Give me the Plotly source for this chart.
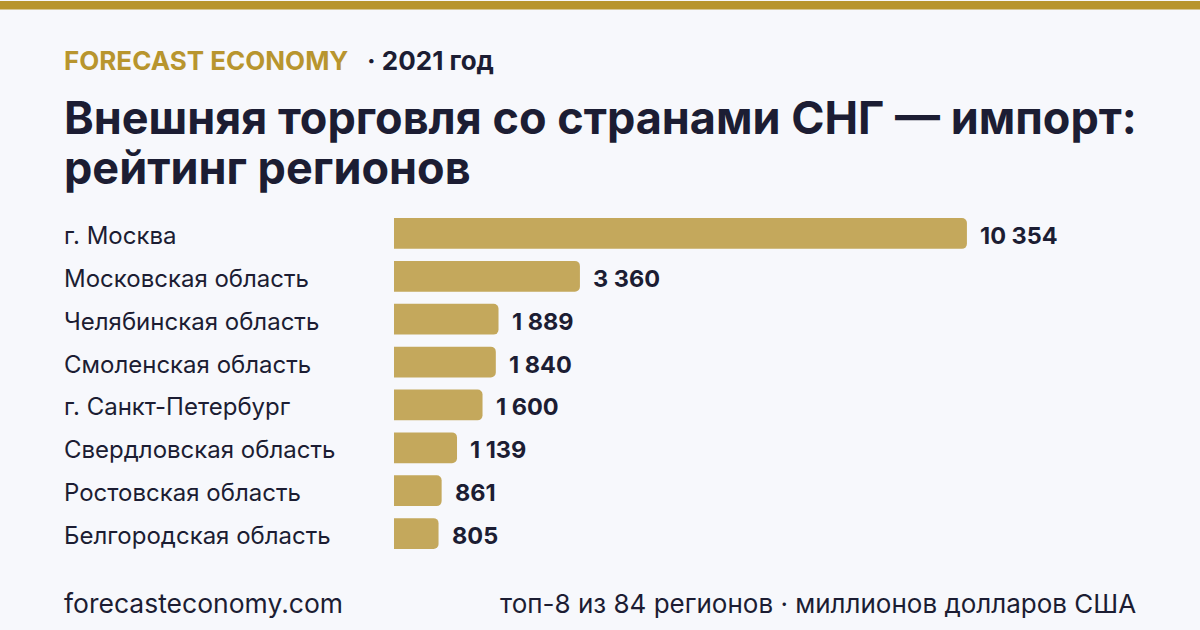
import plotly.graph_objects as go

regions = ["г. Москва", "Московская область", "Челябинская область", "Смоленская область",
           "г. Санкт-Петербург", "Свердловская область", "Ростовская область", "Белгородская область"]
values = [10354, 3360, 1889, 1840, 1600, 1139, 861, 805]
value_labels = ["10 354", "3 360", "1 889", "1 840", "1 600", "1 139", "861", "805"]

brand = "FORECAST ECONOMY"
year = "· 2021 год"
title_lines = ["Внешняя торговля со странами СНГ — импорт:", "рейтинг регионов"]
footer_left = "forecasteconomy.com"
footer_right = "топ-8 из 84 регионов · миллионов долларов США"

W, H = 1200, 630
L, R, T, B = 394, 142, 211.5, 74.5
PW = W - L - R
PH = H - T - B
XMAX = 12000

BG = "#f7f8fc"
GOLD = "#b8952e"
BAR = "#c4a85c"
DARK = "#1c1d33"
FONT = "Inter"
PAD = 3

fig = go.Figure()
fig.add_trace(go.Bar(
    x=values, y=regions, orientation="h",
    marker=dict(color=BAR, line=dict(width=0)),
    hoverinfo="skip",
))

def px_x(px):
    return (px - L) / PW

def px_y(py):
    return (H - B - py) / PH

ann = []
for r, v, lab in zip(regions, values, value_labels):
    ann.append(dict(x=px_x(65 - PAD), xref="paper", y=r, yref="y", text=r, showarrow=False,
                    xanchor="left", yanchor="middle", yshift=-2,
                    font=dict(family=FONT, size=24, color=DARK)))
    ann.append(dict(x=v, xref="x", y=r, yref="y", text=lab, showarrow=False,
                    xanchor="left", yanchor="middle", xshift=14 - PAD, yshift=-2,
                    font=dict(family=FONT, size=23.5, color=DARK, weight=700)))

ann.append(dict(x=px_x(65 - PAD), y=px_y(60), xref="paper", yref="paper", text=brand, showarrow=False,
                xanchor="left", yanchor="middle", font=dict(family=FONT, size=26, color=GOLD, weight=700)))
ann.append(dict(x=px_x(368 - PAD), y=px_y(60), xref="paper", yref="paper", text=year, showarrow=False,
                xanchor="left", yanchor="middle", font=dict(family=FONT, size=26, color=DARK, weight=700)))
for i, line in enumerate(title_lines):
    ann.append(dict(x=px_x(65 - PAD), y=px_y(117 + 50 * i), xref="paper", yref="paper", text=line, showarrow=False,
                    xanchor="left", yanchor="middle", font=dict(family=FONT, size=45, color=DARK, weight=700)))
ann.append(dict(x=px_x(65 - PAD), y=px_y(604), xref="paper", yref="paper", text=footer_left, showarrow=False,
                xanchor="left", yanchor="middle", font=dict(family=FONT, size=26.5, color=DARK)))
ann.append(dict(x=px_x(1135 + PAD), y=px_y(604), xref="paper", yref="paper", text=footer_right, showarrow=False,
                xanchor="right", yanchor="middle", font=dict(family=FONT, size=26, color=DARK)))

fig.update_layout(
    width=W, height=H,
    margin=dict(l=L, r=R, t=T, b=B),
    paper_bgcolor=BG, plot_bgcolor=BG,
    bargap=0.28, barcornerradius=5,
    showlegend=False,
    xaxis=dict(range=[0, XMAX], visible=False, fixedrange=True),
    yaxis=dict(autorange="reversed", showticklabels=False, showgrid=False, zeroline=False,
               showline=False, ticks="", fixedrange=True),
    annotations=ann,
    shapes=[dict(type="rect", xref="paper", yref="paper", x0=px_x(0), x1=px_x(W),
                 y0=px_y(0), y1=px_y(8.5), fillcolor=GOLD, line=dict(width=0), layer="above")],
)

fig.write_html("out.html", config={"displayModeBar": False})
